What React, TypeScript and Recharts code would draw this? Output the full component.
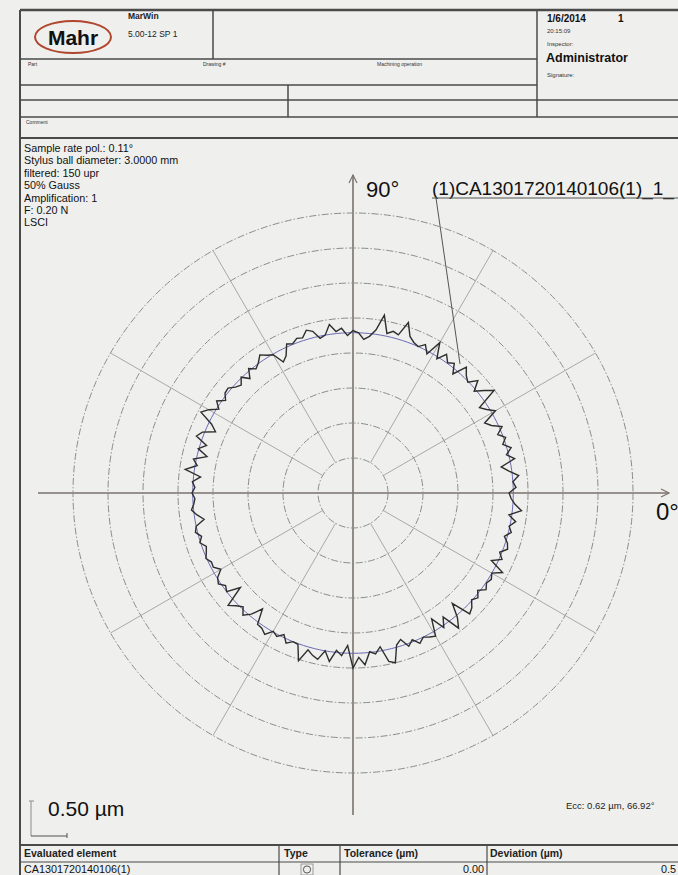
import React from 'react';
import { RadarChart, Radar, PolarGrid, PolarAngleAxis, PolarRadiusAxis } from 'recharts';

// ---- data (deviation of the measured profile from the LSCI circle, µm, every 2°) ----
const SAMPLE_STEP_DEG = 2;
const PROFILE_DEV_UM = [
  -0.06, 0.04, 0, 0.09, -0.04, -0.14, 0.07, -0.03, 0.06, -0.04,
  0.03, -0.06, 0.04, -0.09, -0.16, 0.06, -0.04, -0.11, 0.2, 0.09,
  -0.03, 0.11, -0.01, 0.04, 0.13, -0.07, 0.06, 0.01, 0.1, -0.03,
  0.19, -0.04, 0.07, 0, 0.03, 0.09, 0.27, 0.06, 0.09, 0.04,
  0.29, 0.06, -0.04, -0.09, 0, 0.03, -0.04, 0.07, 0.03, 0.14,
  0, -0.03, 0.09, 0.13, 0.04, 0.06, 0.01, 0.04, -0.11, -0.17,
  -0.01, 0.03, 0.09, 0.01, -0.04, 0.03, -0.09, 0.01, -0.07, -0.03,
  0.04, 0.03, -0.04, 0.06, -0.03, 0.09, 0.17, -0.04, -0.14, 0.03,
  0.09, -0.09, 0.01, -0.14, 0.04, -0.03, 0.13, -0.1, 0.01, -0.03,
  0.01, -0.03, -0.01, 0.03, -0.04, -0.13, 0, 0.03, -0.04, 0.01,
  -0.06, -0.03, 0.01, -0.04, -0.03, -0.11, -0.01, 0.03, -0.04, 0,
  -0.19, 0.11, 0.03, -0.03, 0.06, -0.03, -0.19, 0.03, 0.04, 0.09,
  -0.01, 0.03, -0.04, 0.06, 0, 0.01, 0.23, 0.04, 0.1, 0.14,
  0, 0.14, -0.03, 0.04, -0.11, 0.21, 0.06, 0.17, -0.01, 0.03,
  -0.06, 0.17, 0.21, -0.03, -0.09, 0.04, -0.03, 0.06, 0, 0.04,
  0.07, -0.17, 0.03, -0.1, 0.16, 0.03, -0.17, 0.11, 0.07, -0.01,
  0.04, -0.03, 0.06, 0.01, 0.04, 0, 0.13, -0.09, 0.04, -0.03,
  0.06, 0.03, -0.04, 0.04, -0.01, 0.07, -0.04, 0.13, 0.03, -0.03,
];
const LSCI_RADIUS_UM = 2.29; // reference circle on the radial scale
const RING_TICKS_UM = [0.5, 1.0, 1.5, 2.0, 2.5, 3.0, 3.5, 4.0];
const SPOKE_ANGLES = [30, 60, 120, 150, 210, 240, 300, 330];

const INFO_LINES = [
  'Sample rate pol.: 0.11°',
  'Stylus ball diameter: 3.0000 mm',
  'filtered: 150 upr',
  '50% Gauss',
  'Amplification: 1',
  'F: 0.20 N',
  'LSCI',
];

const tableData = PROFILE_DEV_UM.map((d, i) => ({
  angle: i * SAMPLE_STEP_DEG,
  profile: LSCI_RADIUS_UM + d,
  lsci: LSCI_RADIUS_UM,
}));

const FONT = '"Liberation Sans", Arial, sans-serif';
const LINE = '#4a4a4a';
const AXIS = '#7a726c';

export default function App() {
  return (
    <div
      style={{
        position: 'absolute',
        left: 0,
        top: 0,
        width: 678,
        height: 875,
        background: '#efefed',
        overflow: 'hidden',
        fontFamily: FONT,
      }}
    >
      <svg width={678} height={875} style={{ position: 'absolute', left: 0, top: 0 }} fontFamily={FONT}>
        {/* document frame */}
        <g stroke={LINE} fill="none">
          <line x1={20} y1={10} x2={678} y2={10} strokeWidth={2.5} />
          <line x1={20} y1={10} x2={20} y2={875} strokeWidth={2} />
          <line x1={213} y1={10} x2={213} y2={59} strokeWidth={1.5} />
          <line x1={20} y1={59} x2={537} y2={59} strokeWidth={1.5} />
          <line x1={20} y1={85} x2={537} y2={85} strokeWidth={1.5} />
          <line x1={537} y1={10} x2={537} y2={117} strokeWidth={1.5} />
          <line x1={20} y1={100} x2={678} y2={100} strokeWidth={1.5} />
          <line x1={20} y1={117} x2={678} y2={117} strokeWidth={1.5} />
          <line x1={288} y1={85} x2={288} y2={117} strokeWidth={1.5} />
          <line x1={20} y1={138} x2={678} y2={138} strokeWidth={2} />
          <line x1={20} y1={845} x2={678} y2={845} strokeWidth={2} />
          <line x1={20} y1={862} x2={678} y2={862} strokeWidth={1.2} />
          <line x1={279} y1={845} x2={279} y2={875} strokeWidth={1.2} />
          <line x1={340} y1={845} x2={340} y2={875} strokeWidth={1.2} />
          <line x1={487} y1={845} x2={487} y2={875} strokeWidth={1.2} />
        </g>

        {/* header */}
        <ellipse cx={73} cy={37} rx={38} ry={16} fill="none" stroke="#b0462e" strokeWidth={2} />
        <text x={73} y={45} textAnchor="middle" fontSize={21} fontWeight="bold" fill="#111">Mahr</text>
        <text x={128} y={19} fontSize={8.5} fontWeight="bold" fill="#222">MarWin</text>
        <text x={128} y={37} fontSize={8.5} fill="#222">5.00-12 SP 1</text>
        <text x={28} y={66} fontSize={5} fill="#333">Part</text>
        <text x={203} y={66} fontSize={5} fill="#333">Drawing #</text>
        <text x={377} y={66} fontSize={5} fill="#333">Machining operation</text>
        <text x={26} y={124} fontSize={5} fill="#333">Comment</text>
        <text x={547} y={22} fontSize={10} fontWeight="bold" fill="#111">1/6/2014</text>
        <text x={618} y={22} fontSize={10} fontWeight="bold" fill="#111">1</text>
        <text x={547} y={33} fontSize={6} fill="#333">20:15:09</text>
        <text x={547} y={46} fontSize={6} fill="#333">Inspector:</text>
        <text x={546} y={62} fontSize={12.5} fontWeight="bold" fill="#111">Administrator</text>
        <text x={547} y={77} fontSize={6} fill="#333">Signature:</text>

        {/* measurement info */}
        {INFO_LINES.map((t, i) => (
          <text key={t} x={24} y={152 + i * 12.4} fontSize={10.8} fill="#111">{t}</text>
        ))}

        {/* polar cross axes */}
        <g stroke={AXIS} strokeWidth={1.6} fill="none">
          <line x1={38} y1={493} x2={669} y2={493} />
          <polyline points="661,489 669,493 661,497" strokeWidth={1.2} />
          <line x1={353} y1={815} x2={353} y2={175} />
          <polyline points="349,183 353,175 357,183" strokeWidth={1.2} />
        </g>
        <text x={366} y={197} fontSize={22} fill="#111">90°</text>
        <text x={656} y={520} fontSize={24} fill="#111">0°</text>

        {/* scale bar */}
        <line x1={31} y1={801} x2={31} y2={836} stroke="#9a9a9a" strokeWidth={1.2} />
        <line x1={29} y1={801} x2={34} y2={801} stroke="#9a9a9a" strokeWidth={1.2} />
        <line x1={31} y1={836} x2={67} y2={836} stroke="#555" strokeWidth={1.2} />
        <line x1={67} y1={833} x2={67} y2={838} stroke="#555" strokeWidth={1} />
        <text x={48} y={816} fontSize={21} fill="#111">0.50 µm</text>
        <text x={566} y={809} fontSize={9.5} fill="#222">Ecc:  0.62 µm, 66.92°</text>

        {/* results table */}
        <text x={24} y={857} fontSize={10.5} fontWeight="bold" fill="#222">Evaluated element</text>
        <text x={284} y={857} fontSize={10.5} fontWeight="bold" fill="#222">Type</text>
        <text x={344} y={857} fontSize={10.5} fontWeight="bold" fill="#222">Tolerance (µm)</text>
        <text x={490} y={857} fontSize={10.5} fontWeight="bold" fill="#222">Deviation (µm)</text>
        <text x={24} y={873} fontSize={10.8} fill="#111">CA1301720140106(1)</text>
        <rect x={301} y={864} width={12} height={11} fill="none" stroke="#888" strokeWidth={0.8} />
        <circle cx={307} cy={869.5} r={3.6} fill="none" stroke="#555" strokeWidth={1} />
        <text x={484} y={873} fontSize={10.8} textAnchor="end" fill="#111">0.00</text>
        <text x={676} y={873} fontSize={10.8} textAnchor="end" fill="#111">0.5</text>
      </svg>

      <div style={{ position: 'absolute', left: 0, top: 0 }}>
        <RadarChart
          width={678}
          height={875}
          cx={353}
          cy={493}
          innerRadius={35}
          outerRadius={280}
          startAngle={0}
          endAngle={360}
          data={tableData}
          margin={{ top: 0, right: 0, bottom: 0, left: 0 }}
        >
          <PolarGrid gridType="circle" radialLines={false} stroke="#8c8c8c" strokeWidth={1} strokeDasharray="7 2 1.5 2" />
          <PolarGrid gridType="circle" polarRadius={[]} polarAngles={SPOKE_ANGLES} stroke="#a0a0a0" strokeWidth={0.9} />
          <PolarAngleAxis dataKey="angle" type="number" domain={[0, 360]} tick={false} axisLine={false} tickLine={false} />
          <PolarRadiusAxis type="number" domain={[0.5, 4]} ticks={RING_TICKS_UM} tickCount={8} tick={false} axisLine={false} />
          <Radar dataKey="lsci" stroke="#6a6ab4" strokeWidth={1} fill="none" fillOpacity={0} dot={false} isAnimationActive={false} />
          <Radar dataKey="profile" stroke="#2e2e2e" strokeWidth={1.4} fill="none" fillOpacity={0} dot={false} isAnimationActive={false} />
        </RadarChart>
      </div>

      <svg width={678} height={875} style={{ position: 'absolute', left: 0, top: 0, pointerEvents: 'none' }} fontFamily={FONT}>
        <text x={432} y={195} fontSize={19} fill="#111">(1)CA1301720140106(1)_1_</text>
        <line x1={432} y1={198} x2={678} y2={198} stroke="#555" strokeWidth={1} />
        <line x1={436} y1={198} x2={460} y2={364} stroke="#555" strokeWidth={1} />
      </svg>
    </div>
  );
}
